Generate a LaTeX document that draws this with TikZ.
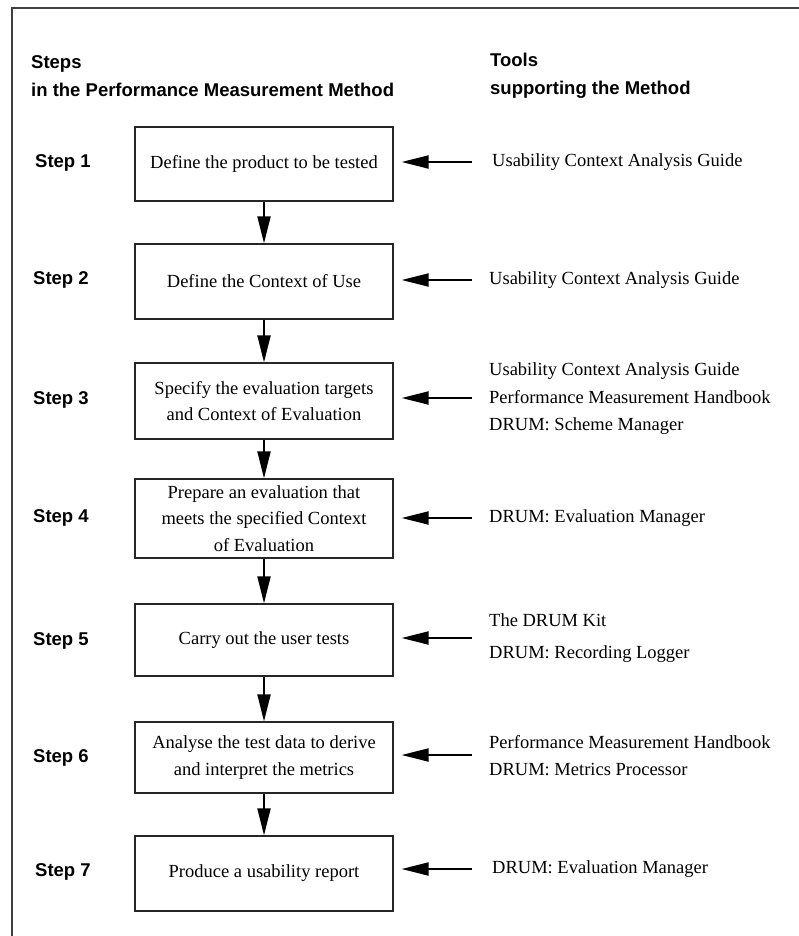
\documentclass[tikz,border=0pt]{standalone}
\usepackage{fontspec}
\setmainfont{Liberation Serif}
\setsansfont{Liberation Sans}
\usetikzlibrary{arrows.meta}
\begin{document}
\begin{tikzpicture}[x=1pt,y=-1pt,
  box/.style={draw=black!85,line width=1.2pt,minimum width=258pt,inner sep=0pt,align=center,font=\fontsize{18.5}{26.5}\selectfont},
  steplabel/.style={anchor=west,font=\sffamily\bfseries\fontsize{18.5}{22}\selectfont,inner sep=0pt},
  head/.style={anchor=west,font=\sffamily\bfseries\fontsize{18.5}{28}\selectfont,inner sep=0pt,align=left},
  tool/.style={anchor=west,inner sep=0pt,align=left,font=\fontsize{18.5}{27.5}\selectfont},
  flow/.style={line width=2pt,-{Triangle[length=27pt,width=13pt]}},
  frame/.style={line width=1.4pt,draw=black!75},
]
\useasboundingbox (0,0) rectangle (799,936);
\draw[frame] (12,936) -- (12,8) -- (799,8);

% headings
\node[head] (hsteps) at (31,76) {Steps\\in the Performance Measurement Method};
\node[head] (htools) at (490,76) {Tools\\supporting the Method};

% boxes
\node[box,minimum height=74pt] (b1) at (264,164) {Define the product to be tested};
\node[box,minimum height=75pt] (b2) at (264,281.5) {Define the Context of Use};
\node[box,minimum height=76pt] (b3) at (264,401) {Specify the evaluation targets\\and Context of Evaluation};
\node[box,minimum height=79pt] (b4) at (264,518.5) {Prepare an evaluation that\\meets the specified Context\\of Evaluation};
\node[box,minimum height=72pt] (b5) at (264,640) {Carry out the user tests};
\node[box,minimum height=71pt] (b6) at (264,757.5) {Analyse the test data to derive\\and interpret the metrics};
\node[box,minimum height=75pt] (b7) at (264,873.5) {Produce a usability report};

% step labels
\node[steplabel] (s1) at (35,163) {Step 1};
\node[steplabel] (s2) at (33,280) {Step 2};
\node[steplabel] (s3) at (33,400) {Step 3};
\node[steplabel] (s4) at (33,518) {Step 4};
\node[steplabel] (s5) at (33,641) {Step 5};
\node[steplabel] (s6) at (33,758) {Step 6};
\node[steplabel] (s7) at (35,872) {Step 7};

% flow arrows
\draw[flow] (b1) -- (b2);
\draw[flow] (b2) -- (b3);
\draw[flow] (b3) -- (b4);
\draw[flow] (b4) -- (b5);
\draw[flow] (b5) -- (b6);
\draw[flow] (b6) -- (b7);

% tools
\node[tool] (t1) at (492,162) {Usability Context Analysis Guide};
\node[tool] (t2) at (489,280) {Usability Context Analysis Guide};
\node[tool] (t3) at (489,399) {Usability Context Analysis Guide\\Performance Measurement Handbook\\DRUM: Scheme Manager};
\node[tool] (t4) at (489,518) {DRUM: Evaluation Manager};
\node[tool,font=\fontsize{18.5}{32}\selectfont] (t5) at (489,638) {The DRUM Kit\\DRUM: Recording Logger};
\node[tool] (t6) at (489,755.5) {Performance Measurement Handbook\\DRUM: Metrics Processor};
\node[tool] (t7) at (492,869) {DRUM: Evaluation Manager};

% tool arrows
\coordinate (a1) at (472,162);
\coordinate (a2) at (472,280);
\coordinate (a3) at (472,398);
\coordinate (a4) at (472,518);
\coordinate (a5) at (472,638);
\coordinate (a6) at (472,755);
\coordinate (a7) at (472,869);
\foreach \i in {1,...,7}{
  \draw[flow,shorten >=8pt] (a\i) -- (b\i.east |- a\i);
}
\end{tikzpicture}
\end{document}
